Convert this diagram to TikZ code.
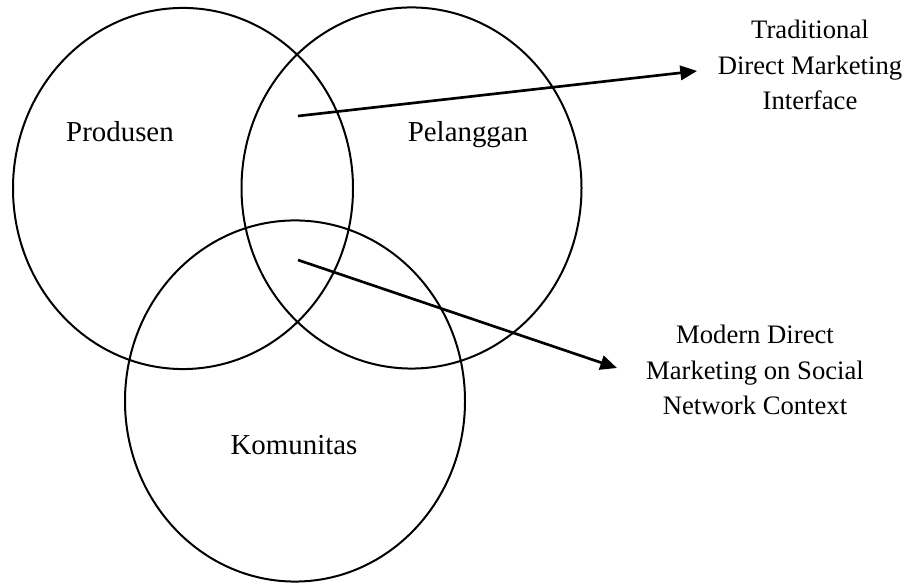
\documentclass[tikz,border=0pt]{standalone}
\usepackage{fontspec}
\setmainfont{Liberation Serif}
\usetikzlibrary{shapes.geometric, arrows.meta}
\tikzset{
        x=0.45pt, y=-0.45pt, % pixel grid of the page
        set/.style={draw, ellipse, line width=0.9pt, inner sep=0pt,
                minimum width=153pt, minimum height=162.5pt},
        setname/.style={font=\fontsize{13}{16}\selectfont},
        note/.style={align=center, font=\fontsize{12}{16}\selectfont},
        pointer/.style={line width=1.2pt, -{Triangle[length=7.5pt,width=6.5pt]}}
        }
\begin{document}
\begin{tikzpicture}
        \useasboundingbox (0,0) rectangle (908,585);
        \node[set](produsen) at (183,188.5){};
        \node[set](pelanggan) at (411.5,188){};
        \node[set](komunitas) at (295,401){};
        \node[setname, anchor=base](produsenname) at (120,142){Produsen};
        \node[setname, anchor=base](pelangganname) at (468,142){Pelanggan};
        \node[setname, anchor=base](komunitasname) at (294,455){Komunitas};
        \node[note](traditional) at (810,65){Traditional\\Direct Marketing\\Interface};
        \node[note](modern) at (755,370){Modern Direct\\Marketing on Social\\Network Context};
        \coordinate (tradfrom) at (298,116);
        \coordinate (tradto) at (697,71);
        \coordinate (modfrom) at (298,260);
        \coordinate (modto) at (617,368);
        \draw[pointer] (tradfrom) -- (tradto);
        \draw[pointer] (modfrom) -- (modto);
\end{tikzpicture}
\end{document}
